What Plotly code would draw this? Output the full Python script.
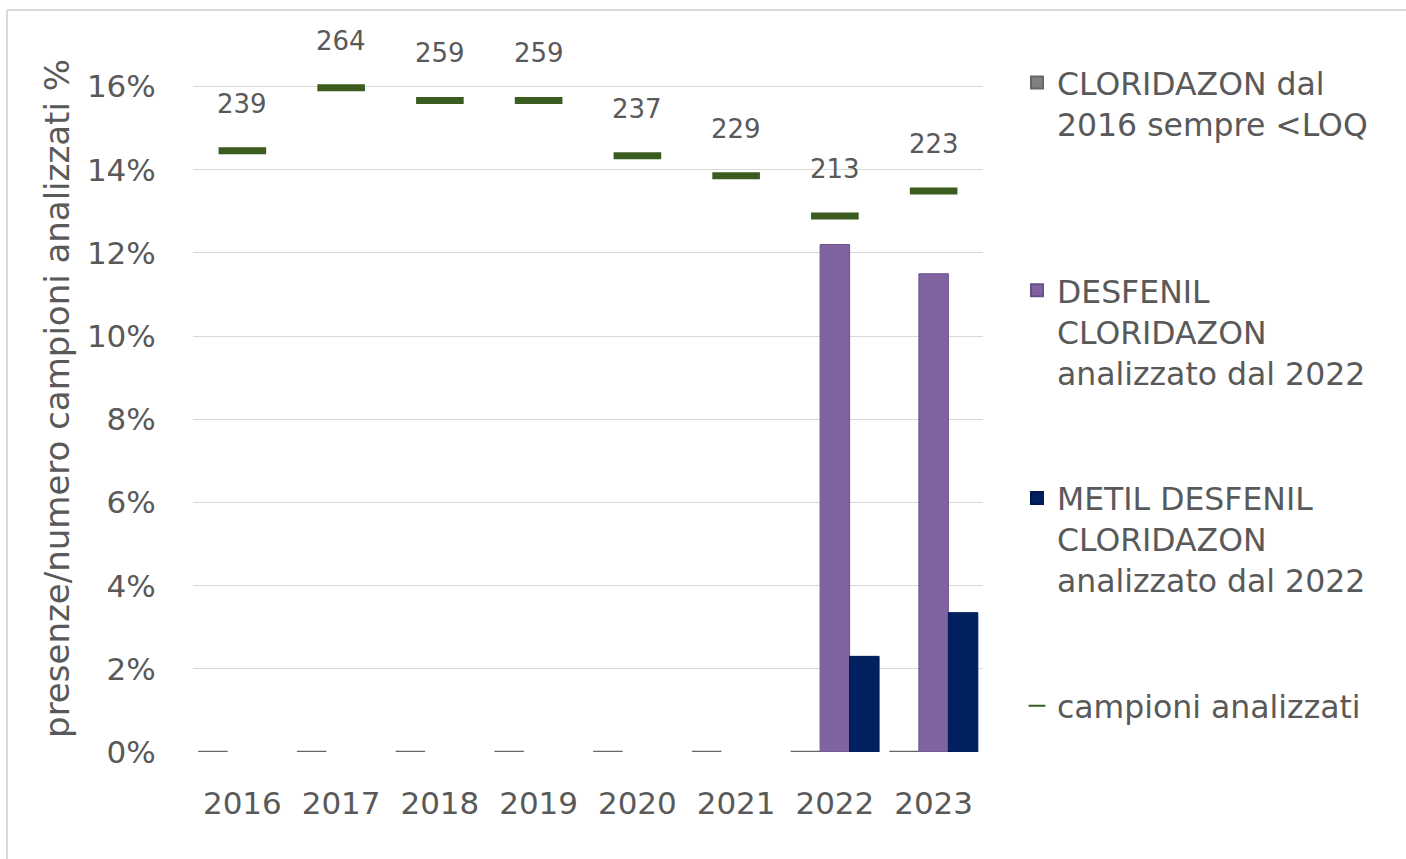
import plotly.graph_objects as go

years = [2016, 2017, 2018, 2019, 2020, 2021, 2022, 2023]
cloridazon = [0, 0, 0, 0, 0, 0, 0, 0]
desfenil = [None, None, None, None, None, None, 12.2, 11.5]
metil = [None, None, None, None, None, None, 2.3, 3.35]
campioni = [239, 264, 259, 259, 237, 229, 213, 223]

names = [
    "CLORIDAZON dal<br>2016 sempre <LOQ<br> <br> <br> ",
    "DESFENIL<br>CLORIDAZON<br>analizzato dal 2022<br> <br> ",
    "METIL DESFENIL<br>CLORIDAZON<br>analizzato dal 2022<br> <br> ",
    "campioni analizzati",
]

FONT = "DejaVu Sans"
TXT = "#595959"
YMAX = 17.0
SCALE = 16.53  # campioni per 1% on the hidden secondary axis

fig = go.Figure()
fig.add_trace(go.Bar(x=years, y=cloridazon, name=names[0],
                     marker=dict(color="#808080", line=dict(color="#666666", width=2.5))))
fig.add_trace(go.Bar(x=years, y=desfenil, name=names[1],
                     marker=dict(color="#8064A2", line=dict(color="#6a5088", width=1))))
fig.add_trace(go.Bar(x=years, y=metil, name=names[2],
                     marker=dict(color="#002060", line=dict(color="#001a50", width=1))))
fig.add_trace(go.Scatter(x=years, y=campioni, name=names[3], yaxis="y2", mode="markers",
                         cliponaxis=False,
                         marker=dict(symbol="line-ew", size=34,
                                     line=dict(color="#3a5d1f", width=7))))

for yr, v in zip(years, campioni):
    fig.add_annotation(x=yr, y=v, xref="x", yref="y2", text=str(v), showarrow=False,
                       yshift=47, font=dict(family=FONT, size=26, color=TXT))

fig.update_layout(
    width=1406, height=859,
    margin=dict(l=193, r=423, t=45, b=107),
    paper_bgcolor="white", plot_bgcolor="white",
    barmode="group", bargap=0.105, bargroupgap=0,
    font=dict(family=FONT, color=TXT),
    showlegend=True,
    legend=dict(x=1.043, y=0.985, xanchor="left", yanchor="top",
                font=dict(family=FONT, size=31.5, color=TXT),
                valign="top", traceorder="normal", itemsizing="constant",
                bgcolor="rgba(0,0,0,0)"),
    xaxis=dict(type="linear", range=[2015.5, 2023.5], tickmode="array",
               tickvals=years, ticktext=[str(y) for y in years],
               showgrid=False, showline=False, zeroline=False,
               ticks="outside", ticklen=24, tickcolor="rgba(0,0,0,0)",
               tickfont=dict(family=FONT, size=31, color=TXT)),
    yaxis=dict(range=[0, YMAX], dtick=2, ticksuffix="%", showgrid=True,
               gridcolor="#d9d9d9", gridwidth=1, zeroline=False, showline=False,
               ticks="outside", ticklen=30, tickcolor="rgba(0,0,0,0)",
               tickfont=dict(family=FONT, size=31, color=TXT),
               title=dict(text="presenze/numero campioni analizzati %",
                          font=dict(family=FONT, size=34, color=TXT), standoff=6)),
    yaxis2=dict(range=[0, YMAX * SCALE], overlaying="y", side="right", visible=False),
    shapes=[
        dict(type="line", xref="paper", yref="paper", x0=-186/790, x1=1213/790,
             y0=(859-10-107)/707, y1=(859-10-107)/707, line=dict(color="#d9d9d9", width=2)),
        dict(type="line", xref="paper", yref="paper", x0=-186/790, x1=-186/790,
             y0=-107/707, y1=(859-10-107)/707, line=dict(color="#d9d9d9", width=2)),
    ],
)

fig.write_html("out.html")
